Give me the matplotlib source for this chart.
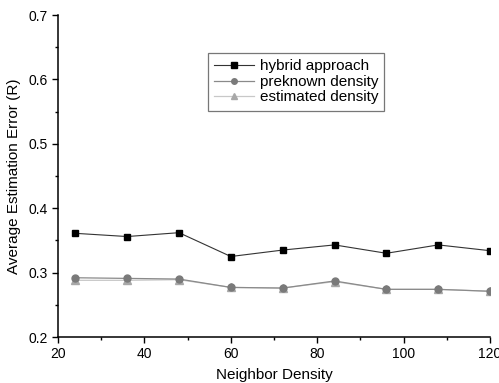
import matplotlib
matplotlib.use("Agg")
import matplotlib.pyplot as plt
from matplotlib.ticker import MultipleLocator

plt.rcParams['font.family'] = ['Liberation Sans', 'DejaVu Sans']

neighbor_density = [24, 36, 48, 60, 72, 84, 96, 108, 120]
hybrid = [0.361, 0.356, 0.362, 0.325, 0.335, 0.343, 0.330, 0.343, 0.334]
preknown = [0.292, 0.291, 0.290, 0.277, 0.276, 0.287, 0.274, 0.274, 0.271]
estimated = [0.288, 0.288, 0.289, 0.277, 0.276, 0.286, 0.274, 0.274, 0.271]

fig = plt.figure(figsize=(4.99, 3.83), dpi=100)
ax = fig.add_axes([0.1162, 0.1201, 0.866, 0.8407])

l3, = ax.plot(neighbor_density, estimated, color='#c8c8c8', lw=0.9, marker='^',
              ms=5.2, mfc='#a8a8a8', mec='#a8a8a8', zorder=2, label='estimated density')
l2, = ax.plot(neighbor_density, preknown, color='#8a8a8a', lw=0.9, marker='o',
              ms=5.0, mfc='#7a7a7a', mec='#7a7a7a', zorder=3, label='preknown density')
l1, = ax.plot(neighbor_density, hybrid, color='#333333', lw=0.8, marker='s',
              ms=5.0, mfc='black', mec='black', zorder=4, label='hybrid approach')

ax.set_xlim(20, 120)
ax.set_ylim(0.2, 0.7)
ax.xaxis.set_major_locator(MultipleLocator(20))
ax.xaxis.set_minor_locator(MultipleLocator(10))
ax.yaxis.set_major_locator(MultipleLocator(0.1))
ax.yaxis.set_minor_locator(MultipleLocator(0.05))
ax.tick_params(which='major', direction='out', length=4.5, width=1, labelsize=10, pad=3)
ax.tick_params(which='minor', direction='out', length=2.5, width=1)
for s in ['top', 'right']:
    ax.spines[s].set_visible(False)
for s in ['left', 'bottom']:
    ax.spines[s].set_linewidth(1.1)

ax.set_xlabel('Neighbor Density', fontsize=11, labelpad=5)
ax.set_ylabel('Average Estimation Error (R)', fontsize=11, labelpad=5)

leg = ax.legend(handles=[l1, l2, l3], loc='upper left', bbox_to_anchor=(0.3465, 0.881),
                borderaxespad=0, fontsize=11, frameon=True, fancybox=False,
                handlelength=2.6, handletextpad=0.4, borderpad=0.4, labelspacing=0.1,
                markerscale=0.8)
leg.get_frame().set_edgecolor('#555555')
leg.get_frame().set_linewidth(0.9)

fig.savefig('out.png', dpi=100)
